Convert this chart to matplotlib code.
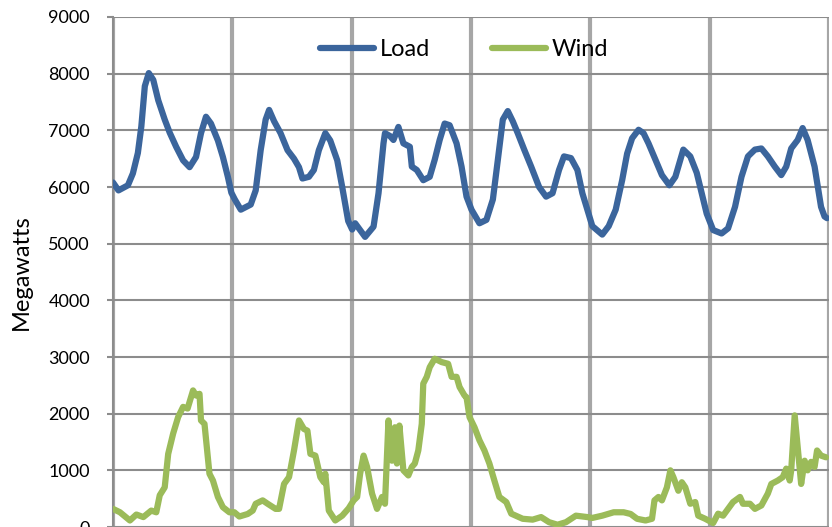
import matplotlib
matplotlib.use('Agg')
import matplotlib.pyplot as plt
import numpy as np

plt.rcParams['font.family'] = ['Lato', 'DejaVu Sans']

# Load trace (hour of week, MW)
load_t = [0, 1.1, 3, 4, 5, 5.7, 6.4, 7.2, 8.1, 9.1, 10.4, 11.4, 12.7, 14.1, 15.4,
          16.7, 17.7, 18.7, 19.7, 21.1, 22.1, 23.1, 23.8,
          24.5, 25.7, 27.7, 28.7, 29.7, 30.7, 31.4, 32.4, 33.7, 35.1, 36.4, 37.4,
          38.1, 39.4, 40.4, 41.4, 42.7, 43.7, 45.1, 46.1, 47.3,
          48.1, 48.7, 50.7, 52.4, 53.4, 54.4, 54.7, 55.7, 56.4, 57.4, 58.4, 59.7,
          60.1, 61.1, 62.4, 63.7, 64.7, 65.7, 66.7, 67.7, 69.1, 70.1, 71.1, 72.1,
          73.7, 75.1, 76.4, 77.4, 78.4, 79.4, 80.4, 81.4, 82.7, 84.1, 85.7, 87.1,
          88.4, 89.7, 90.7, 92.1, 93.4, 94.4, 95.4,
          96.4, 98.4, 99.7, 101.1, 102.4, 103.4, 104.4, 105.7, 106.7, 107.7, 109.1,
          110.4, 111.9, 113.1, 114.7, 116.1, 117.4, 118.4, 119.4,
          120.7, 122.4, 123.7, 125.1, 126.4, 127.7, 129.1, 130.4, 131.7, 133.1,
          134.4, 135.4, 136.4, 137.7, 138.7, 139.7, 141.1, 142.4, 143.1, 143.6]
load_mw = [6080, 5940, 6030, 6240, 6600, 7070, 7780, 8010, 7890, 7530, 7190, 6960,
           6710, 6470, 6350, 6530, 6950, 7240, 7120, 6820, 6530, 6180, 5900,
           5780, 5600, 5690, 5940, 6650, 7190, 7360, 7160, 6950, 6650, 6500, 6350,
           6150, 6180, 6300, 6650, 6950, 6820, 6470, 6000, 5400,
           5250, 5360, 5120, 5300, 5890, 6770, 6950, 6900, 6830, 7060, 6770, 6710,
           6360, 6300, 6120, 6180, 6480, 6830, 7120, 7090, 6770, 6360, 5830, 5600,
           5360, 5420, 5780, 6480, 7190, 7340, 7160, 6950, 6660, 6360, 6000, 5830,
           5890, 6300, 6540, 6510, 6300, 5890, 5600,
           5310, 5160, 5310, 5600, 6120, 6590, 6860, 7010, 6950, 6770, 6480,
           6210, 6030, 6180, 6660, 6540, 6250, 5890, 5530,
           5240, 5180, 5270, 5650, 6180, 6540, 6660, 6680, 6540, 6360,
           6210, 6360, 6680, 6830, 7040, 6830, 6360, 5650, 5480, 5450]

# Wind trace (hour of week, MW)
wind_t = [0, 1.4, 3.4, 4.7, 6.1, 7.7, 8.7, 9.4, 10.4, 11.1, 12.1, 13.1, 14.1, 15,
          16.1, 16.7, 17.4, 17.7, 18.4, 19.4, 20.1, 21.1, 22.1, 23.4,
          24.4, 25.4, 27.1, 28.1, 28.7, 30.1, 31.1, 32.7, 33.4, 34.4, 35.4, 36.4,
          37.4, 38.4, 39.1, 39.7, 40.7, 41.7, 42.4, 42.7, 43.4, 44.7, 46.1, 47.4,
          48.4, 49.1, 49.7, 50.4, 51.1, 52.1, 53.1, 54.1, 54.7, 55.4, 56.1, 56.7,
          57.1, 57.6, 58.4, 59.4, 60.1, 60.7, 61.4, 62.1, 62.4, 63.1, 63.7, 64.7,
          66.1, 67.4, 68.1, 69.1, 69.7, 70.7, 71.1, 71.7,
          72.7, 73.7, 74.7, 75.7, 76.7, 77.7, 79.1, 80.1, 82.4, 84.4, 86.1, 87.7,
          89.4, 91.1, 93.1, 95.4,
          96.4, 98.4, 100.7, 102.7, 104.1, 105.4, 107.1, 108.4, 108.9, 109.7, 110.4,
          111.4, 112.1, 112.7, 113.7, 114.4, 115.1, 116.1, 117.1, 117.7, 119.1,
          120.7, 121.7, 122.7, 124.7, 126.1, 126.7, 128.1, 129.1, 130.4, 131.7,
          132.4, 133.7, 134.7, 135.4, 136.1, 136.4, 137.1, 137.7, 138.4, 139.1,
          139.7, 140.4, 141.1, 141.6, 142.4, 143.4]
wind_mw = [320, 260, 115, 220, 175, 290, 260, 560, 700, 1290, 1650, 1940, 2120, 2090,
           2410, 2320, 2350, 1880, 1820, 940, 820, 530, 350, 260,
           260, 185, 230, 290, 410, 470, 410, 320, 320, 760, 880, 1350,
           1880, 1730, 1700, 1290, 1260, 880, 790, 940, 290, 115, 200, 330,
           470, 530, 940, 1260, 1060, 590, 320, 530, 410, 1880, 1170, 1760,
           1120, 1790, 1000, 910, 1060, 1120, 1350, 1820, 2530, 2650, 2820, 2970,
           2910, 2880, 2650, 2650, 2470, 2320, 2290, 1940,
           1760, 1530, 1350, 1120, 820, 530, 440, 235, 145, 130, 175, 85,
           40, 85, 200, 175,
           160, 200, 260, 260, 230, 145, 115, 145, 470, 530, 470,
           700, 1000, 880, 640, 790, 700, 410, 440, 200, 145,
           70, 235, 200, 440, 530, 410, 410, 320, 380, 590,
           760, 820, 880, 1030, 820, 1000, 1970, 1410, 760, 1170,
           1000, 1150, 1060, 1350, 1260, 1230]

day_edges = [0, 24, 48, 72, 96, 120, 144]
y_ticks = [0, 1000, 2000, 3000, 4000, 5000, 6000, 7000, 8000, 9000]

load_color = '#3B659C'
wind_color = '#9BBB59'

fig = plt.figure(figsize=(8.32, 5.27), dpi=100)
ax = fig.add_axes([113 / 832, 0.0, (829 - 113) / 832, 1 - 17 / 527])

ax.plot(load_t, load_mw, color=load_color, linewidth=4.5,
        solid_joinstyle='round', solid_capstyle='round', label='Load', zorder=3)
ax.plot(wind_t, wind_mw, color=wind_color, linewidth=4.5,
        solid_joinstyle='round', solid_capstyle='round', label='Wind', zorder=3)

ax.set_xlim(0, 144)
ax.set_ylim(0, 9000)
ax.set_yticks(y_ticks)
ax.set_xticks(day_edges)
ax.set_xticklabels([])

# horizontal grid thin, vertical day separators thick
ax.grid(True, axis='y', color='#8C8C8C', linewidth=1.5, zorder=1)
ax.grid(True, axis='x', color='#A6A6A6', linewidth=3.0, zorder=1)
ax.set_axisbelow(True)

for s in ['top', 'right', 'bottom']:
    ax.spines[s].set_visible(False)
ax.spines['left'].set_color('#8C8C8C')
ax.spines['left'].set_linewidth(1.5)

ax.tick_params(axis='y', direction='out', length=4.5, width=1.5, color='#8C8C8C',
               labelsize=13, pad=12)
ax.tick_params(axis='x', length=0)

ax.set_ylabel('Megawatts', fontsize=17, labelpad=12)

leg = ax.legend(loc='center', bbox_to_anchor=(464 / 832, 1 - 50 / 527),
                bbox_transform=fig.transFigure, ncol=2, frameon=False,
                fontsize=17, handlelength=2.3, handletextpad=0.25,
                columnspacing=2.6)
for line in leg.get_lines():
    line.set_linewidth(4.5)

fig.savefig('out.png', dpi=100)
